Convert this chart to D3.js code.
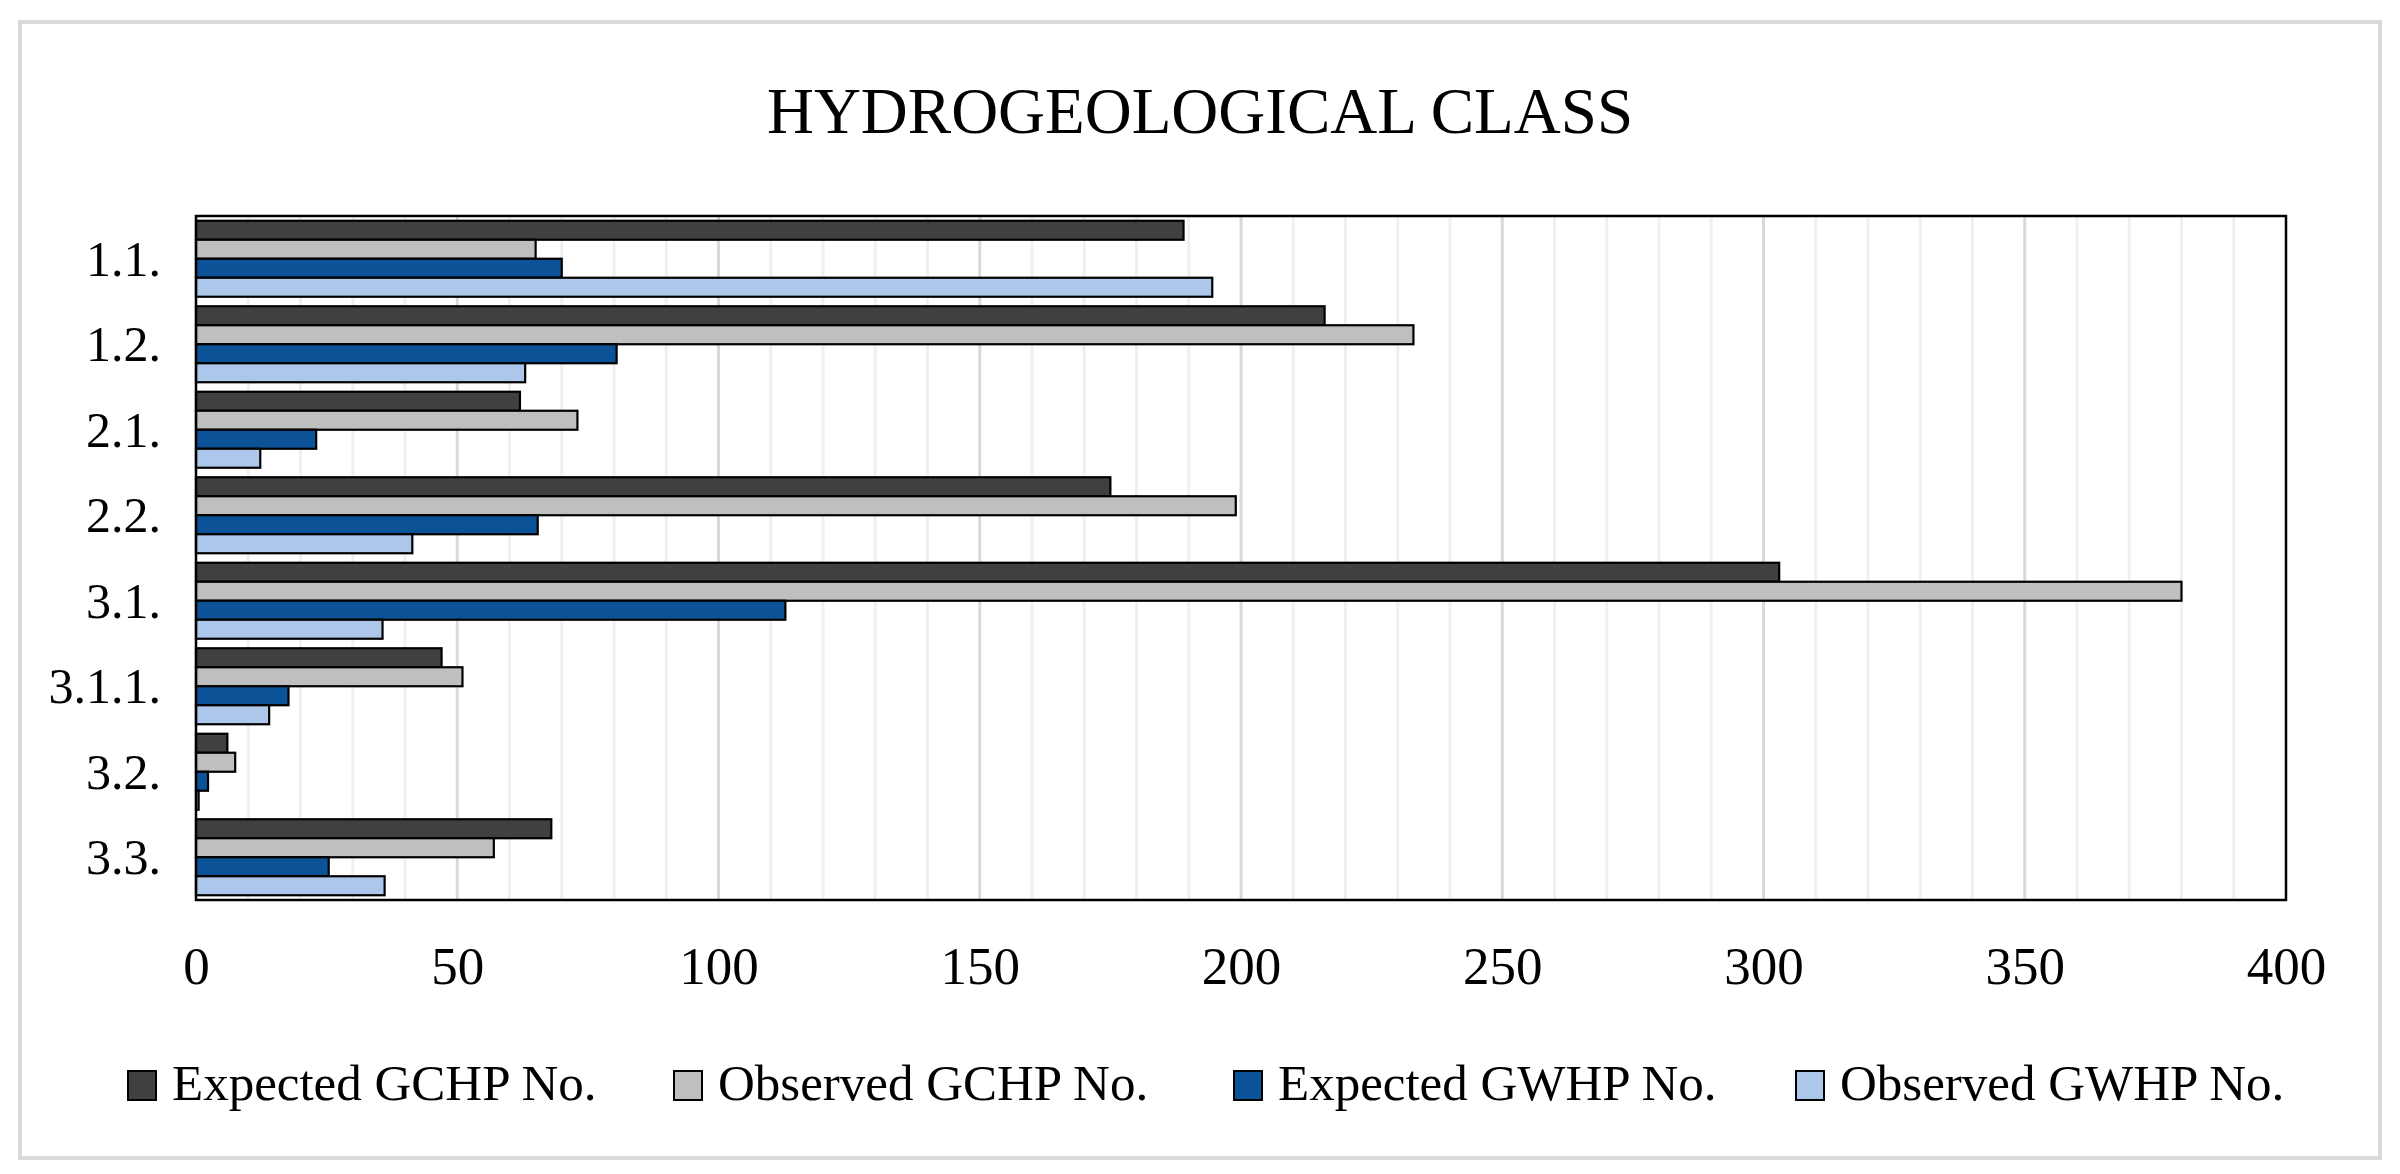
<!DOCTYPE html>
<html lang="en">
<head>
<meta charset="UTF-8" />
<script src="https://d3js.org/d3.v7.min.js"></script>
<title>Hydrogeological class</title>
<style>
    body { margin: 0; overflow: hidden; background: white; }
    text { font-family: "Liberation Serif", "DejaVu Serif", serif; fill: #000; }
</style>
</head>
<body>
<script>
    // values
    const categories = ["1.1.", "1.2.", "2.1.", "2.2.", "3.1.", "3.1.1.", "3.2.", "3.3."];
    const seriesNames = ["Expected GCHP No.", "Observed GCHP No.", "Expected GWHP No.", "Observed GWHP No."];
    const expectedGCHP = [189, 216, 62, 175, 303, 47, 6, 68];
    const observedGCHP = [65, 233, 73, 199, 380, 51, 7.5, 57];
    const expectedGWHP = [70, 80.5, 23, 65.4, 112.8, 17.7, 2.3, 25.4];
    const observedGWHP = [194.5, 63, 12.3, 41.4, 35.7, 14, 0.5, 36.1];
    const xTicks = [0, 50, 100, 150, 200, 250, 300, 350, 400];
    const colors = ["#404040", "#bfbfbf", "#0b5396", "#adc7ea"];

    const width = 2400;
    const height = 1174;

    const svg = d3.select("body").append("svg")
        .attr("width", width)
        .attr("height", height);

    // outer frame
    svg.append("rect")
        .attr("x", 20).attr("y", 22)
        .attr("width", 2360).attr("height", 1136)
        .attr("fill", "white")
        .attr("stroke", "#d9d9d9")
        .attr("stroke-width", 4);

    const margin = { top: 216, right: 2400 - 2286, bottom: 1174 - 900, left: 196 };

    const x = d3.scaleLinear()
        .domain([0, 400])
        .range([margin.left, width - margin.right]);

    const y = d3.scaleBand()
        .domain(categories)
        .range([margin.top, height - margin.bottom])
        .padding(0);

    const ySub = d3.scaleBand()
        .domain(d3.range(seriesNames.length))
        .range([0, y.bandwidth()])
        .paddingInner(0)
        .paddingOuter(0.25);

    // gridlines: minor every 10, major every 50
    const minor = d3.range(10, 400, 10).filter(v => v % 50 !== 0);
    svg.append("g").selectAll("line")
        .data(minor)
        .join("line")
        .attr("x1", d => x(d)).attr("x2", d => x(d))
        .attr("y1", margin.top).attr("y2", height - margin.bottom)
        .attr("stroke", "#f0f0f0")
        .attr("stroke-width", 3);

    svg.append("g").selectAll("line")
        .data(xTicks.filter(v => v > 0 && v < 400))
        .join("line")
        .attr("x1", d => x(d)).attr("x2", d => x(d))
        .attr("y1", margin.top).attr("y2", height - margin.bottom)
        .attr("stroke", "#d9d9d9")
        .attr("stroke-width", 3);

    const seriesData = [expectedGCHP, observedGCHP, expectedGWHP, observedGWHP];
    const bars = [];
    categories.forEach((c, i) => {
        seriesData.forEach((s, k) => {
            bars.push({ cat: c, k: k, v: s[i] });
        });
    });

    svg.append("g").selectAll("rect")
        .data(bars)
        .join("rect")
        .attr("x", x(0))
        .attr("y", d => y(d.cat) + ySub(d.k))
        .attr("width", d => x(d.v) - x(0))
        .attr("height", ySub.bandwidth())
        .attr("fill", d => colors[d.k])
        .attr("stroke", "#000")
        .attr("stroke-width", 2.2);

    // plot area border
    svg.append("rect")
        .attr("x", margin.left).attr("y", margin.top)
        .attr("width", width - margin.right - margin.left)
        .attr("height", height - margin.bottom - margin.top)
        .attr("fill", "none")
        .attr("stroke", "#000")
        .attr("stroke-width", 2.5);

    // x axis labels
    const xAxis = svg.append("g")
        .attr("transform", `translate(0,${height - margin.bottom})`)
        .call(d3.axisBottom(x).tickValues(xTicks).tickSize(0).tickPadding(0));
    xAxis.select(".domain").remove();
    xAxis.selectAll("text")
        .attr("dy", null)
        .attr("y", 84)
        .style("font-family", '"Liberation Serif", serif')
        .style("font-size", "53px");

    // y axis labels
    const yAxis = svg.append("g")
        .attr("transform", `translate(${margin.left},0)`)
        .call(d3.axisLeft(y).tickSize(0).tickPadding(35));
    yAxis.select(".domain").remove();
    yAxis.selectAll("text")
        .attr("dy", "0.34em")
        .style("font-family", '"Liberation Serif", serif')
        .style("font-size", "50px");

    // title
    svg.append("text")
        .attr("x", 1200)
        .attr("y", 133)
        .attr("text-anchor", "middle")
        .style("font-size", "65px")
        .text("HYDROGEOLOGICAL CLASS");

    // legend
    const legendX = [128, 674, 1234, 1796];
    const legend = svg.append("g").selectAll("g")
        .data(seriesNames)
        .join("g")
        .attr("transform", (d, i) => `translate(${legendX[i]},1071)`);
    legend.append("rect")
        .attr("width", 28).attr("height", 29)
        .attr("fill", (d, i) => colors[i])
        .attr("stroke", "#000")
        .attr("stroke-width", 2);
    legend.append("text")
        .attr("x", 44)
        .attr("y", 29)
        .style("font-size", "51px")
        .text(d => d);
</script>
</body>
</html>
